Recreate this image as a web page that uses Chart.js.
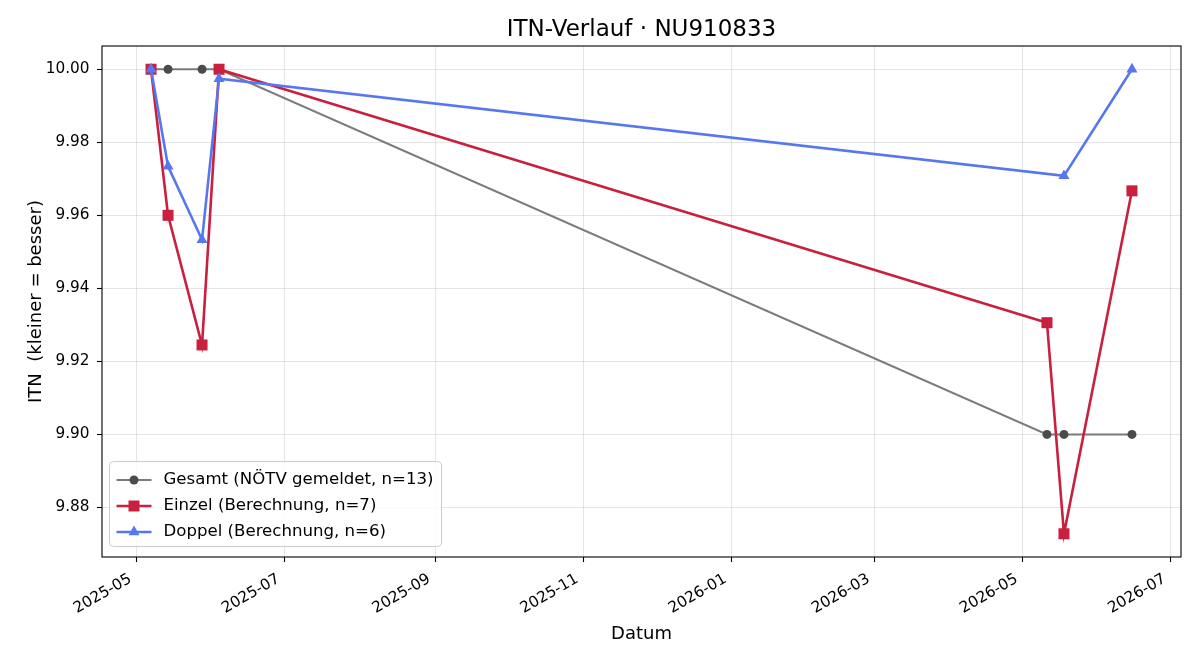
<!DOCTYPE html>
<html>
<head>
<meta charset="utf-8">
<script src="https://cdn.jsdelivr.net/npm/chart.js"></script>
<style>
  body { margin: 0; background: #fff; }
  #wrap { width: 1200px; height: 660px; }
</style>
</head>
<body>
<div id="wrap"><canvas id="itnChart"></canvas></div>
<script>
// values
const gesamtDates = ['2025-05-07', '2025-05-14', '2025-05-28', '2025-06-04', '2026-05-11', '2026-05-18', '2026-06-15'];
const gesamtValues = [10.00, 10.00, 10.00, 10.00, 9.90, 9.90, 9.90];

const einzelDates = ['2025-05-07', '2025-05-14', '2025-05-28', '2025-06-04', '2026-05-11', '2026-05-18', '2026-06-15'];
const einzelValues = [10.00, 9.960, 9.9245, 10.00, 9.9306, 9.8728, 9.9667];

const doppelDates = ['2025-05-07', '2025-05-14', '2025-05-28', '2025-06-04', '2026-05-18', '2026-06-15'];
const doppelValues = [10.00, 9.9734, 9.9533, 9.9974, 9.9708, 10.00];

const monthTicks = ['2025-05', '2025-07', '2025-09', '2025-11', '2026-01', '2026-03', '2026-05', '2026-07'];
const yTicks = [9.88, 9.90, 9.92, 9.94, 9.96, 9.98, 10.00];

const chartTitle = 'ITN-Verlauf · NU910833';
const seriesLabels = ['Gesamt (NÖTV gemeldet, n=13)', 'Einzel (Berechnung, n=7)', 'Doppel (Berechnung, n=6)'];

function toDay(str) {
    let p = str.split('-').map(Number);
    return Date.UTC(p[0], p[1] - 1, p[2] || 1) / 86400000;
}

function toPoints(dates, values) {
    return dates.map((d, i) => ({ x: toDay(d), y: values[i] }));
}

// matplotlib style 5% margins
let allX = gesamtDates.concat(einzelDates, doppelDates).map(toDay);
let allY = gesamtValues.concat(einzelValues, doppelValues);
let xLo = Math.min(...allX), xHi = Math.max(...allX);
let yLo = Math.min(...allY), yHi = Math.max(...allY);
let xPad = (xHi - xLo) * 0.05, yPad = (yHi - yLo) * 0.05;

const GRAY_LINE = '#7b7b7b';
const GRAY_PT = '#4b4b4b';
const RED = '#c9203f';
const BLUE = '#5877ef';

Chart.defaults.font.family = "'DejaVu Sans', sans-serif";
Chart.defaults.font.size = 15.3;
Chart.defaults.color = '#000';

function drawMarker(ctx, style, x, y, color) {
    ctx.fillStyle = color;
    ctx.beginPath();
    if (style === 'circle') {
        ctx.arc(x, y, 4.5, 0, Math.PI * 2);
    } else if (style === 'rect') {
        ctx.rect(x - 5.5, y - 5.5, 11, 11);
    } else {
        let r = 6.4;
        ctx.moveTo(x, y - r);
        ctx.lineTo(x + r * 0.866, y + r * 0.5);
        ctx.lineTo(x - r * 0.866, y + r * 0.5);
        ctx.closePath();
    }
    ctx.fill();
}

const frameAndLegend = {
    id: 'frameAndLegend',
    afterDraw(chart) {
        const ctx = chart.ctx;
        const a = chart.chartArea;
        ctx.save();
        // spines
        ctx.strokeStyle = '#000';
        ctx.lineWidth = 1.1;
        ctx.strokeRect(a.left, a.top, a.right - a.left, a.bottom - a.top);

        // title centred over the plot area
        ctx.font = "23px 'DejaVu Sans', sans-serif";
        ctx.fillStyle = '#000';
        ctx.textAlign = 'center';
        ctx.textBaseline = 'alphabetic';
        ctx.fillText(chartTitle, (a.left + a.right) / 2, 36);

        // legend box, lower left
        ctx.font = "16.6px 'DejaVu Sans', sans-serif";
        let maxW = Math.max(...seriesLabels.map(t => ctx.measureText(t).width));
        let bx = a.left + 7.5, bw = 54 + maxW + 8, bh = 85;
        let by = a.bottom - 10.5 - bh;
        ctx.beginPath();
        ctx.roundRect(bx, by, bw, bh, 4);
        ctx.fillStyle = 'rgba(255,255,255,0.8)';
        ctx.fill();
        ctx.strokeStyle = '#cccccc';
        ctx.lineWidth = 1;
        ctx.stroke();

        const entries = [
            { line: GRAY_LINE, pt: GRAY_PT, style: 'circle', w: 2 },
            { line: RED, pt: RED, style: 'rect', w: 2.6 },
            { line: BLUE, pt: BLUE, style: 'triangle', w: 2.6 }
        ];
        entries.forEach((e, i) => {
            let yy = by + 18.5 + i * 26;
            ctx.strokeStyle = e.line;
            ctx.lineWidth = e.w;
            ctx.beginPath();
            ctx.moveTo(bx + 7, yy);
            ctx.lineTo(bx + 42, yy);
            ctx.stroke();
            drawMarker(ctx, e.style, bx + 24.5, yy, e.pt);
            ctx.fillStyle = '#000';
            ctx.textAlign = 'left';
            ctx.textBaseline = 'middle';
            ctx.fillText(seriesLabels[i], bx + 54, yy);
        });
        ctx.restore();
    }
};

const ctx = document.getElementById('itnChart').getContext('2d');
new Chart(ctx, {
    type: 'line',
    data: {
        datasets: [
            {
                label: seriesLabels[0],
                data: toPoints(gesamtDates, gesamtValues),
                borderColor: GRAY_LINE,
                backgroundColor: GRAY_PT,
                pointBackgroundColor: GRAY_PT,
                pointBorderColor: GRAY_PT,
                borderWidth: 2,
                pointStyle: 'circle',
                pointRadius: 4.5,
                pointBorderWidth: 0,
                order: 3
            },
            {
                label: seriesLabels[1],
                data: toPoints(einzelDates, einzelValues),
                borderColor: RED,
                backgroundColor: RED,
                pointBackgroundColor: RED,
                pointBorderColor: RED,
                borderWidth: 2.6,
                pointStyle: 'rect',
                pointRadius: 7.8,
                pointBorderWidth: 0,
                order: 2
            },
            {
                label: seriesLabels[2],
                data: toPoints(doppelDates, doppelValues),
                borderColor: BLUE,
                backgroundColor: BLUE,
                pointBackgroundColor: BLUE,
                pointBorderColor: BLUE,
                borderWidth: 2.6,
                pointStyle: 'triangle',
                pointRadius: 6.4,
                pointBorderWidth: 0,
                order: 1
            }
        ]
    },
    options: {
        responsive: true,
        maintainAspectRatio: false,
        animation: false,
        layout: { padding: { left: 0, right: 19, top: 46, bottom: 0 } },
        plugins: {
            legend: { display: false },
            tooltip: { enabled: false },
            title: { display: false }
        },
        scales: {
            x: {
                type: 'linear',
                min: xLo - xPad,
                max: xHi + xPad,
                afterBuildTicks: function (scale) {
                    scale.ticks = monthTicks.map(m => ({ value: toDay(m) }));
                },
                afterFit: function (scale) {
                    scale.height = 103;
                },
                ticks: {
                    autoSkip: false,
                    minRotation: 30,
                    maxRotation: 30,
                    padding: 8,
                    labelOffset: -6,
                    callback: function (value) {
                        let i = monthTicks.findIndex(m => toDay(m) === value);
                        return i >= 0 ? monthTicks[i] : '';
                    }
                },
                grid: {
                    color: 'rgba(0,0,0,0.1)',
                    lineWidth: 1,
                    tickColor: '#000',
                    tickLength: 5,
                    tickWidth: 1.1
                },
                border: { display: false },
                title: {
                    display: true,
                    text: 'Datum',
                    font: { size: 18 },
                    padding: { top: 4, bottom: 15 }
                }
            },
            y: {
                min: yLo - yPad,
                max: yHi + yPad,
                afterBuildTicks: function (scale) {
                    scale.ticks = yTicks.map(v => ({ value: v }));
                },
                afterFit: function (scale) {
                    scale.width = 102;
                },
                ticks: {
                    padding: 7.5,
                    callback: function (value) {
                        return value.toFixed(2);
                    }
                },
                grid: {
                    color: 'rgba(0,0,0,0.1)',
                    lineWidth: 1,
                    tickColor: '#000',
                    tickLength: 5,
                    tickWidth: 1.1
                },
                border: { display: false },
                title: {
                    display: true,
                    text: 'ITN  (kleiner = besser)',
                    font: { size: 18 },
                    padding: { top: 25.2, bottom: 4 }
                }
            }
        }
    },
    plugins: [frameAndLegend]
});
</script>
</body>
</html>
